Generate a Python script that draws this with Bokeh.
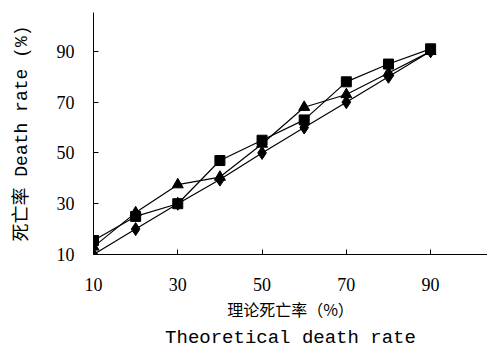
from bokeh.plotting import figure
from bokeh.models import Range1d, FixedTicker, LinearAxis
from bokeh.embed import file_html
from bokeh.resources import INLINE

# Data
theoretical = [10, 20, 30, 40, 50, 60, 70, 80, 90]
series_square = [15.5, 25, 30, 47, 55, 63, 78, 85, 91]
series_triangle = [13, 26.5, 37.5, 40.5, 53.5, 68, 73, 81.5, 90]
series_diamond = [10, 20, 30, 39.5, 50, 60, 70, 80, 90]
tick_values = [10, 30, 50, 70, 90]

p = figure(width=487, height=351, output_backend="svg", toolbar_location=None,
           x_range=Range1d(10, 103.5), y_range=Range1d(10, 105.3),
           min_border_left=93, min_border_right=0, min_border_top=12, min_border_bottom=95)
p.outline_line_color = None
p.grid.visible = False
p.background_fill_color = "white"
p.border_fill_color = "white"

for ax in (p.xaxis[0], p.yaxis[0]):
    ax.ticker = FixedTicker(ticks=tick_values)
    ax.major_tick_in = 5
    ax.major_tick_out = 0
    ax.minor_tick_line_color = None
    ax.axis_line_color = "black"
    ax.major_tick_line_color = "black"
    ax.major_label_text_font = "Liberation Serif"
    ax.major_label_text_font_size = "18px"
    ax.major_label_text_color = "black"
    ax.axis_label_text_font_style = "normal"
    ax.axis_label_text_color = "black"
p.xaxis.major_label_standoff = 23
p.yaxis.major_label_standoff = 19

p.xaxis.axis_label = "理论死亡率（%）"
p.xaxis.axis_label_text_font = "Noto Sans CJK SC"
p.xaxis.axis_label_text_font_size = "16px"
p.xaxis.axis_label_standoff = 3

p.yaxis.axis_label = "死亡率 Death rate (%)"
p.yaxis.axis_label_text_font = "'Liberation Mono', 'Noto Sans CJK SC'"
p.yaxis.axis_label_text_font_size = "18px"
p.yaxis.axis_label_standoff = 22

# second line of the x-axis title
x2 = LinearAxis(axis_label="Theoretical death rate", ticker=FixedTicker(ticks=[]),
                axis_line_color=None, major_tick_line_color=None, minor_tick_line_color=None,
                major_tick_in=0, major_tick_out=0, minor_tick_in=0, minor_tick_out=0,
                major_label_standoff=0, axis_label_standoff=3,
                axis_label_text_font="Liberation Mono", axis_label_text_font_size="19px",
                axis_label_text_font_style="normal", axis_label_text_color="black")
p.add_layout(x2, "below")

for ys in (series_diamond, series_triangle, series_square):
    p.line(theoretical, ys, line_color="black", line_width=1.2)

p.scatter(theoretical, series_diamond, marker="diamond", size=13, color="black")
p.scatter(theoretical, series_triangle, marker="triangle", size=11, color="black")
p.scatter(theoretical, series_square, marker="square", size=10, color="black")

open("out.html", "w").write(file_html(p, INLINE))
